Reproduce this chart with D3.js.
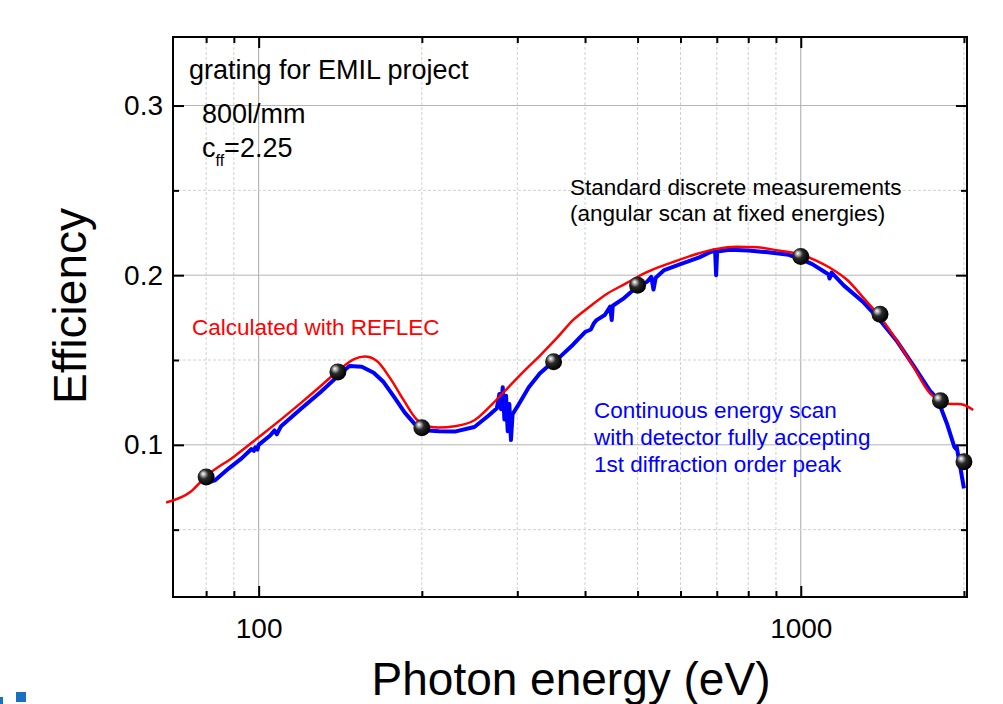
<!DOCTYPE html>
<html>
<head>
<meta charset="utf-8">
<script src="https://cdn.jsdelivr.net/npm/d3@7"></script>
<style>
    body { margin: 0; background: #fff; }
    svg { display: block; font-family: 'Liberation Sans', Arial, sans-serif; }
</style>
</head>
<body>
<div id="chart"></div>
<script>
// REFLEC calculation (red line)
const reflecEnergy = [67.5, 75, 80, 90, 100, 110, 120, 130, 140, 150, 157, 165, 175, 185, 195, 205, 215, 230,
    250, 270, 290, 310, 330, 355, 380, 410, 440, 475, 510, 550, 590, 640, 700, 760, 830, 910, 1000,
    1070, 1130, 1220, 1310, 1400, 1500, 1610, 1730, 1800, 1860, 1950, 2000, 2080]
const reflecEff = [0.066, 0.0725, 0.0815, 0.093, 0.1045, 0.115, 0.125, 0.1345, 0.1435, 0.1505, 0.152, 0.1495, 0.139, 0.1265, 0.1155, 0.111, 0.1102, 0.111,
    0.1145, 0.1242, 0.1345, 0.144, 0.1525, 0.163, 0.1735, 0.182, 0.1892, 0.195, 0.2005, 0.205, 0.2085, 0.2123, 0.2155, 0.2168, 0.2165, 0.2145, 0.2122,
    0.2085, 0.2045, 0.197, 0.186, 0.1755, 0.162, 0.1465, 0.1305, 0.126, 0.1242, 0.124, 0.1235, 0.1205]

// continuous energy scan (blue line)
const scanEnergy = [80.3, 83, 88, 93, 97, 98, 98.6, 99.5, 100, 105, 107, 108, 110, 120, 130, 140, 147, 155, 163, 170, 178, 186, 195,
    205, 215, 230, 250, 265, 275, 278, 280, 282, 284, 286, 288, 290, 292, 294, 300, 315, 330, 345, 360, 380, 400, 410, 415, 420, 435,
    445, 448, 450, 470, 500, 520, 530, 535, 540, 560, 600, 650, 690, 695, 698, 701, 740, 800, 870, 950, 1000, 1050, 1100, 1125, 1130,
    1140, 1200, 1300, 1400, 1500, 1620, 1730, 1790, 1810, 1860, 1920, 1935, 1940, 2000]
const scanEff = [0.0776, 0.079, 0.086, 0.092, 0.0975, 0.0965, 0.0985, 0.0972, 0.1, 0.1055, 0.1085, 0.1062, 0.111, 0.1215, 0.131, 0.1405, 0.1465, 0.146, 0.1425, 0.137, 0.128, 0.119, 0.1115,
    0.1085, 0.108, 0.1078, 0.1105, 0.117, 0.1215, 0.130, 0.121, 0.134, 0.115, 0.129, 0.108, 0.124, 0.1028, 0.118, 0.1225, 0.134, 0.142, 0.1475, 0.152, 0.159, 0.1665, 0.168, 0.1715, 0.1735, 0.1765,
    0.1815, 0.1735, 0.182, 0.186, 0.1935, 0.196, 0.199, 0.1915, 0.1985, 0.203, 0.2065, 0.2105, 0.2145, 0.2145, 0.200, 0.214, 0.215, 0.2145, 0.2135, 0.212, 0.2095, 0.2065, 0.2025, 0.2005, 0.198,
    0.2015, 0.194, 0.1845, 0.1735, 0.1617, 0.146, 0.132, 0.127, 0.1224, 0.1126, 0.0988, 0.0975, 0.0985, 0.0743]

// standard discrete measurements (black balls)
const discreteEnergy = [80, 140, 200, 350, 500, 1000, 1400, 1810, 2000]
const discreteEff = [0.081, 0.143, 0.110, 0.149, 0.194, 0.211, 0.177, 0.126, 0.090]

const xMajorTicks = [100, 1000]
const xMinorTicks = [80, 90, 200, 300, 400, 500, 600, 700, 800, 900, 2000]
const yMajorTicks = [0.1, 0.2, 0.3]
const yMinorTicks = [0.05, 0.15, 0.25]

class EfficiencyChart {
    constructor(_config) {
        this.config = {
            parentElement: _config.parentElement,
            containerWidth: _config.containerWidth || 1003,
            containerHeight: _config.containerHeight || 704,
            margin: _config.margin || { top: 37, right: 36, bottom: 107, left: 173 }
        }
        this.initVis()
    }

    initVis() {
        let vis = this

        vis.width = vis.config.containerWidth - vis.config.margin.left - vis.config.margin.right
        vis.height = vis.config.containerHeight - vis.config.margin.top - vis.config.margin.bottom

        vis.svg = d3.select(vis.config.parentElement).append('svg')
            .attr('width', vis.config.containerWidth)
            .attr('height', vis.config.containerHeight)

        // ball shading
        const grad = vis.svg.append('defs')
            .append('radialGradient')
            .attr('id', 'ball')
            .attr('cx', '40%').attr('cy', '40%').attr('r', '60%')
            .attr('fx', '32%').attr('fy', '30%')
        grad.append('stop').attr('offset', '0%').style('stop-color', '#ffffff')
        grad.append('stop').attr('offset', '18%').style('stop-color', '#b0b0b0')
        grad.append('stop').attr('offset', '45%').style('stop-color', '#2a2a2a')
        grad.append('stop').attr('offset', '100%').style('stop-color', '#000000')

        vis.chart = vis.svg.append('g')
            .attr('transform', `translate(${vis.config.margin.left},${vis.config.margin.top})`)

        vis.xScale = d3.scaleLog()
            .domain([69.5, 2026])
            .range([0, vis.width])

        vis.yScale = d3.scaleLinear()
            .domain([0.0103, 0.3404])
            .range([vis.height, 0])

        // logo fragment in the bottom left corner
        vis.svg.append('rect')
            .attr('x', 16).attr('y', 692).attr('width', 10).attr('height', 10)
            .attr('fill', '#1770c2')
        vis.svg.append('rect')
            .attr('x', 0).attr('y', 697).attr('width', 3).attr('height', 7)
            .attr('fill', '#1770c2')

        // axis titles
        vis.svg.append('text')
            .attr('x', 571)
            .attr('y', 695)
            .attr('text-anchor', 'middle')
            .style('font-size', '46px')
            .text('Photon energy (eV)')

        vis.svg.append('text')
            .attr('transform', 'translate(86,306) rotate(-90)')
            .attr('text-anchor', 'middle')
            .style('font-size', '46px')
            .text('Efficiency')
    }

    renderVis() {
        let vis = this

        // grid lines
        vis.chart.selectAll('.vgrid')
            .data(xMajorTicks.concat(xMinorTicks))
            .join('line')
            .attr('class', 'vgrid')
            .attr('x1', d => vis.xScale(d)).attr('x2', d => vis.xScale(d))
            .attr('y1', 0).attr('y2', vis.height)
            .attr('stroke', d => xMajorTicks.includes(d) ? '#a8a8a8' : '#d0d0d0')
            .attr('stroke-width', 1)
            .attr('stroke-dasharray', d => xMajorTicks.includes(d) ? null : '3,2')

        vis.chart.selectAll('.hgrid')
            .data(yMajorTicks.concat(yMinorTicks))
            .join('line')
            .attr('class', 'hgrid')
            .attr('x1', 0).attr('x2', vis.width)
            .attr('y1', d => vis.yScale(d)).attr('y2', d => vis.yScale(d))
            .attr('stroke', d => yMajorTicks.includes(d) ? '#b4b4b4' : '#d0d0d0')
            .attr('stroke-width', 1)
            .attr('stroke-dasharray', d => yMajorTicks.includes(d) ? null : '3,2')

        // ticks on all four sides, pointing inwards
        const addAxis = (axis, tx, ty, labels) => {
            const g = vis.chart.append('g')
                .attr('transform', `translate(${tx},${ty})`)
                .call(axis)
            g.select('.domain').remove()
            g.selectAll('line').attr('stroke', '#000').attr('stroke-width', 2)
            g.selectAll('text')
                .style('font-size', '28px')
                .style('font-family', "'Liberation Sans', Arial, sans-serif")
                .attr('fill', '#000')
            if (!labels) g.selectAll('text').remove()
            return g
        }

        addAxis(d3.axisBottom(vis.xScale).tickValues(xMajorTicks).tickFormat(d3.format('d'))
            .tickSizeInner(-11).tickSizeOuter(0).tickPadding(21), 0, vis.height, true)
        addAxis(d3.axisBottom(vis.xScale).tickValues(xMinorTicks)
            .tickSizeInner(-6).tickSizeOuter(0), 0, vis.height, false)
        addAxis(d3.axisTop(vis.xScale).tickValues(xMajorTicks)
            .tickSizeInner(-11).tickSizeOuter(0), 0, 0, false)
        addAxis(d3.axisTop(vis.xScale).tickValues(xMinorTicks)
            .tickSizeInner(-6).tickSizeOuter(0), 0, 0, false)

        addAxis(d3.axisLeft(vis.yScale).tickValues(yMajorTicks).tickFormat(d3.format('.1f'))
            .tickSizeInner(-11).tickSizeOuter(0).tickPadding(10), 0, 0, true)
        addAxis(d3.axisLeft(vis.yScale).tickValues(yMinorTicks)
            .tickSizeInner(-6).tickSizeOuter(0), 0, 0, false)
        addAxis(d3.axisRight(vis.yScale).tickValues(yMajorTicks)
            .tickSizeInner(-11).tickSizeOuter(0), vis.width, 0, false)
        addAxis(d3.axisRight(vis.yScale).tickValues(yMinorTicks)
            .tickSizeInner(-6).tickSizeOuter(0), vis.width, 0, false)

        // frame
        vis.chart.append('rect')
            .attr('width', vis.width)
            .attr('height', vis.height)
            .attr('fill', 'none')
            .attr('stroke', '#000')
            .attr('stroke-width', 2)

        // measured scan
        const scanLine = d3.line()
            .x(d => vis.xScale(d[0]))
            .y(d => vis.yScale(d[1]))
        vis.chart.append('path')
            .datum(d3.zip(scanEnergy, scanEff))
            .attr('d', scanLine)
            .attr('fill', 'none')
            .attr('stroke', '#0000ff')
            .attr('stroke-width', 4)
            .attr('stroke-linejoin', 'round')

        // REFLEC curve, drawn a bit past the frame like the original
        const reflecLine = d3.line()
            .x(d => vis.xScale(d[0]))
            .y(d => vis.yScale(d[1]))
            .curve(d3.curveMonotoneX)
        vis.chart.append('path')
            .datum(d3.zip(reflecEnergy, reflecEff))
            .attr('d', reflecLine)
            .attr('fill', 'none')
            .attr('stroke', '#ff0000')
            .attr('stroke-width', 2.5)

        // discrete measurements
        vis.chart.selectAll('.ball')
            .data(d3.zip(discreteEnergy, discreteEff))
            .join('circle')
            .attr('class', 'ball')
            .attr('cx', d => vis.xScale(d[0]))
            .attr('cy', d => vis.yScale(d[1]))
            .attr('r', 8.5)
            .attr('fill', 'url(#ball)')

        // annotations
        vis.svg.append('text')
            .attr('x', 189).attr('y', 79)
            .style('font-size', '27px')
            .text('grating for EMIL project')

        vis.svg.append('text')
            .attr('x', 202).attr('y', 123)
            .style('font-size', '27px')
            .text('800l/mm')

        const cff = vis.svg.append('text')
            .attr('x', 202).attr('y', 157)
            .style('font-size', '27px')
        cff.append('tspan').text('c')
        cff.append('tspan').attr('dy', 9).style('font-size', '16px').text('ff')
        cff.append('tspan').attr('dy', -9).text('=2.25')

        vis.svg.append('text')
            .attr('x', 570).attr('y', 195)
            .style('font-size', '22.5px')
            .text('Standard discrete measurements')
        vis.svg.append('text')
            .attr('x', 570).attr('y', 221)
            .style('font-size', '22.5px')
            .text('(angular scan at fixed energies)')

        vis.svg.append('text')
            .attr('x', 192).attr('y', 335)
            .attr('fill', '#ff0000')
            .style('font-size', '22.5px')
            .text('Calculated with REFLEC')

        const blueNote = ['Continuous energy scan', 'with detector fully accepting', '1st diffraction order peak']
        vis.svg.selectAll('.bluenote')
            .data(blueNote)
            .join('text')
            .attr('class', 'bluenote')
            .attr('x', 594)
            .attr('y', (d, i) => 418 + i * 27)
            .attr('fill', '#0000ff')
            .style('font-size', '22.5px')
            .text(d => d)
    }
}

const chart = new EfficiencyChart({ parentElement: '#chart' })
chart.renderVis()
</script>
</body>
</html>
